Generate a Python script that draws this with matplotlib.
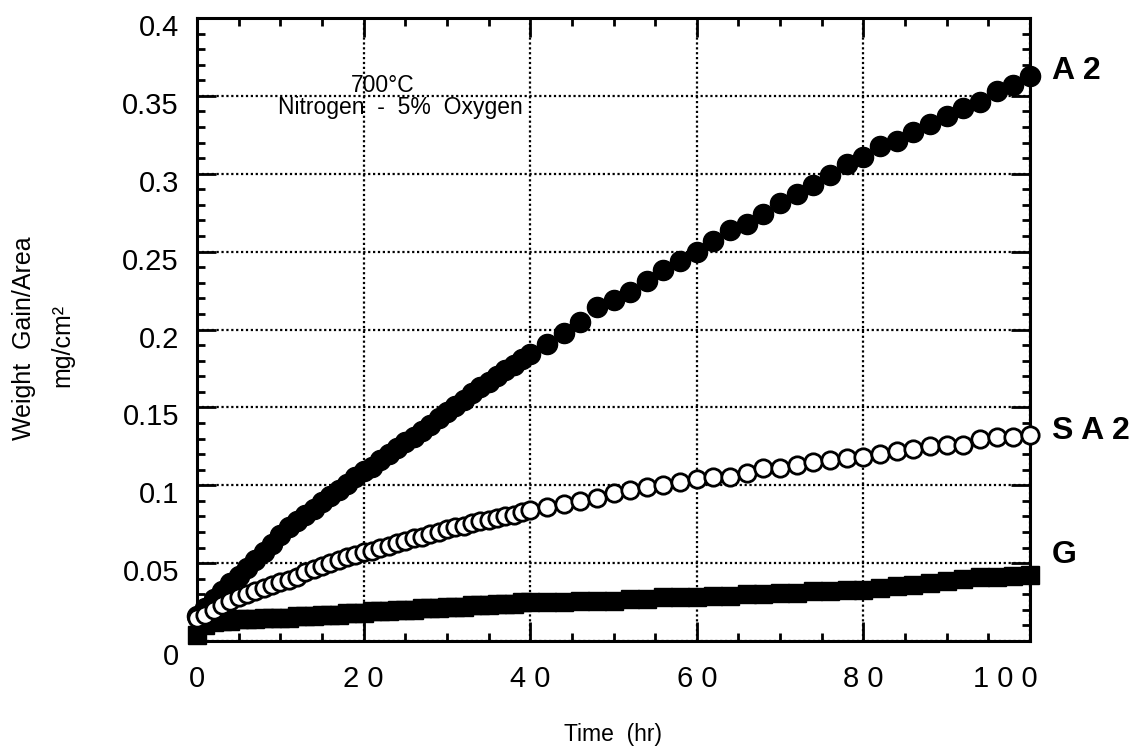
import matplotlib
matplotlib.use("Agg")
import matplotlib.pyplot as plt
from matplotlib.ticker import MultipleLocator, FixedLocator
from matplotlib.transforms import ScaledTranslation

plt.rcParams['font.family'] = ['Liberation Sans', 'DejaVu Sans']

# ---------------- data ----------------
time_h = list(range(0, 41)) + list(range(42, 101, 2))

a2 = [0.016, 0.021, 0.027, 0.032, 0.037, 0.042, 0.047, 0.052, 0.057, 0.062,
      0.068, 0.073, 0.077, 0.081, 0.085, 0.089, 0.093, 0.097, 0.101, 0.105,
      0.109, 0.112, 0.116, 0.120, 0.124, 0.128, 0.131, 0.135, 0.139, 0.143,
      0.147, 0.151, 0.155, 0.159, 0.163, 0.166, 0.170, 0.174, 0.177, 0.181,
      0.184,
      0.191, 0.198, 0.205, 0.2145, 0.219, 0.224, 0.231, 0.238, 0.244, 0.250,
      0.257, 0.264, 0.2675, 0.274, 0.281, 0.287, 0.293, 0.299, 0.306, 0.311,
      0.318, 0.321, 0.327, 0.332, 0.337, 0.342, 0.346, 0.353, 0.357, 0.363]

sa2 = [0.015, 0.017, 0.020, 0.023, 0.026, 0.028, 0.030, 0.032, 0.034, 0.036,
       0.038, 0.039, 0.041, 0.044, 0.046, 0.048, 0.050, 0.052, 0.054, 0.055,
       0.057, 0.058, 0.060, 0.061, 0.063, 0.064, 0.066, 0.067, 0.069, 0.070,
       0.072, 0.073, 0.074, 0.076, 0.077, 0.078, 0.079, 0.080, 0.081, 0.083,
       0.084,
       0.086, 0.088, 0.090, 0.092, 0.095, 0.097, 0.099, 0.100, 0.102, 0.104,
       0.1055, 0.1055, 0.108, 0.111, 0.111, 0.113, 0.115, 0.116, 0.1175, 0.118,
       0.120, 0.122, 0.123, 0.125, 0.126, 0.126, 0.130, 0.131, 0.131, 0.132]

g = [0.004, 0.010, 0.012, 0.013, 0.013, 0.014, 0.014, 0.014, 0.015, 0.015,
     0.015, 0.015, 0.016, 0.016, 0.016, 0.017, 0.017, 0.017, 0.018, 0.018,
     0.018, 0.019, 0.019, 0.019, 0.020, 0.020, 0.020, 0.021, 0.021, 0.021,
     0.022, 0.022, 0.022, 0.023, 0.023, 0.023, 0.024, 0.024, 0.024, 0.025,
     0.025,
     0.025, 0.025, 0.026, 0.026, 0.026, 0.027, 0.027, 0.028, 0.028, 0.028,
     0.029, 0.029, 0.030, 0.030, 0.031, 0.031, 0.032, 0.032, 0.033, 0.033,
     0.034, 0.035, 0.036, 0.037, 0.0385, 0.0395, 0.041, 0.041, 0.042, 0.0425]

x_ticks = [0, 20, 40, 60, 80, 100]
x_ticklabels = ['0', '2 0', '4 0', '6 0', '8 0', '1 0 0']
y_ticks = [0, 0.05, 0.1, 0.15, 0.2, 0.25, 0.3, 0.35, 0.4]
y_ticklabels = ['0', '0.05', '0.1', '0.15', '0.2', '0.25', '0.3', '0.35', '0.4']

series_labels = ['A 2', 'S A 2', 'G']
label_y = [0.366, 0.135, 0.055]

# ---------------- figure ----------------
W, H = 1135, 748
fig = plt.figure(figsize=(W / 100, H / 100), dpi=100)
ax = fig.add_axes([197 / W, 1 - 641 / H, (1030 - 197) / W, (641 - 18) / H])

ax.plot(time_h, g, linestyle='none', marker='s', markersize=13,
        color='black', clip_on=False, zorder=3)
ax.plot(time_h, a2, linestyle='none', marker='o', markersize=14.5,
        color='black', clip_on=False, zorder=4)
ax.plot(time_h, sa2, linestyle='none', marker='o', markersize=12.5,
        markerfacecolor='white', markeredgecolor='black', markeredgewidth=2,
        clip_on=False, zorder=5)

ax.set_xlim(0, 100)
ax.set_ylim(0, 0.4)

ax.xaxis.set_major_locator(FixedLocator(x_ticks))
ax.yaxis.set_major_locator(FixedLocator(y_ticks))
ax.xaxis.set_minor_locator(MultipleLocator(5))
ax.yaxis.set_minor_locator(MultipleLocator(0.01))
ax.set_xticklabels(x_ticklabels)
ax.set_yticklabels(y_ticklabels)

ax.tick_params(which='both', direction='in', top=True, right=True,
               color='black', width=2)
ax.tick_params(which='major', length=14, labelsize=21)
ax.tick_params(which='minor', length=6)
ax.tick_params(axis='x', which='major', pad=17)
ax.tick_params(axis='y', which='major', pad=13)

for sp in ax.spines.values():
    sp.set_linewidth(2.2)
    sp.set_color('black')

ax.grid(which='major', color='black', linestyle=(0, (1, 1.2)), linewidth=1.6)
ax.set_axisbelow(True)

# y tick labels sit a bit lower than their ticks in the original
for i, lbl in enumerate(ax.get_yticklabels()):
    dy = -13 if i == 0 else -7
    lbl.set_transform(lbl.get_transform() + ScaledTranslation(0, dy / 100, fig.dpi_scale_trans))
xl = ax.get_xticklabels()
xl[-1].set_transform(xl[-1].get_transform() + ScaledTranslation(-25 / 100, 0, fig.dpi_scale_trans))

# annotation
ax.text(22.3, 0.3526, '700°C', ha='center', va='baseline', fontsize=16.5)
ax.text(24.4, 0.3385, 'Nitrogen  -  5%  Oxygen', ha='center', va='baseline', fontsize=16.5)

# series labels at the right
for lab, yy in zip(series_labels, label_y):
    ax.text(102.6, yy, lab, ha='left', va='center', fontsize=23,
            fontweight='bold', clip_on=False)

# axis titles
fig.text(24 / W, 1 - 338 / H, 'Weight  Gain/Area', rotation=90,
         ha='center', va='center', fontsize=18)
fig.text(62 / W, 1 - 345 / H, 'mg/cm²', rotation=90,
         ha='center', va='center', fontsize=18)
fig.text(613 / W, 1 - 735 / H, 'Time  (hr)', ha='center', va='center', fontsize=16.5)

fig.savefig('out.png', dpi=100)
